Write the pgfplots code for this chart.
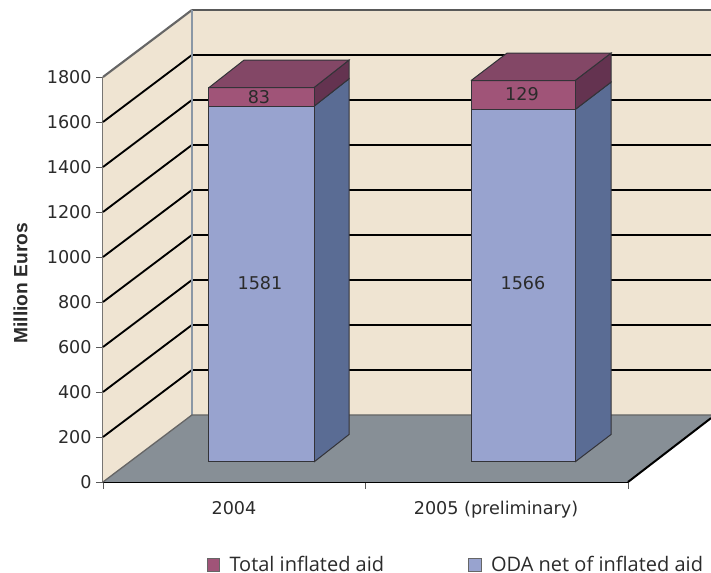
\documentclass[border=0pt]{standalone}
\usepackage{pgfplots}
\pgfplotsset{compat=1.18}
\usepackage{fontspec}
\setmainfont{DejaVu Sans}
\newfontfamily\lab{Liberation Sans}
\newfontfamily\leg{Open Sans}
\definecolor{wall}{HTML}{EFE4D2}
\definecolor{floorc}{HTML}{878F96}
\definecolor{odaF}{HTML}{98A3CF}
\definecolor{odaS}{HTML}{5A6C94}
\definecolor{infF}{HTML}{A05478}
\definecolor{infS}{HTML}{643350}
\definecolor{infT}{HTML}{834766}
\definecolor{edge}{HTML}{333338}
\definecolor{txt}{HTML}{2B2B2B}
\definecolor{backedge}{HTML}{8A97A5}
\begin{document}
\begin{tikzpicture}
\path[use as bounding box] (0,0) rectangle (533.25pt,429.75pt);
\begin{axis}[
  at={(77.25pt,68.25pt)},anchor=south west,
  scale only axis,width=393.75pt,height=303.75pt,
  xmin=103,xmax=628,ymin=0,ymax=1800,
  clip=false,
  axis x line=bottom,axis y line=left,
  axis line style={-},
  x axis line style={black,line width=1.5pt},
  y axis line style={color=gray!80!black,line width=0.9pt},
  tick align=outside,
  major tick length=5pt,
  tick style={color=gray!70!black,line width=0.6pt},
  ytick={0,200,400,600,800,1000,1200,1400,1600,1800},
  xtick={103,365,628},
  xticklabels={},
  extra x ticks={234,496},
  extra x tick labels={2004,2005 (preliminary)},
  extra x tick style={major tick length=0pt,tick label style={yshift=-11pt}},
  /pgf/number format/assume math mode=true,
  /pgf/number format/1000 sep={},
  tick label style={font=\fontsize{13.2}{15}\selectfont,color=txt},
  ylabel={\lab\bfseries Million Euros},
  ylabel style={at={(axis description cs:-0.157,0.491)},anchor=center,font=\fontsize{14.4}{15}\selectfont,color=txt},
  legend columns=2,
  legend cell align=left,
  legend style={at={(axis cs:203,-369)},anchor=west,draw=none,fill=none,
    font=\leg\fontsize{15}{17}\selectfont,text=txt,
    /tikz/every odd column/.append style={column sep=5.3pt},
    /tikz/every even column/.append style={column sep=61.5pt}},
]
% legend
\addlegendimage{only marks,mark=square*,mark size=4.7pt,mark options={fill=infF,draw=black!60,line width=0.7pt}}
\addlegendentry{Total inflated aid}
\addlegendimage{only marks,mark=square*,mark size=4.7pt,mark options={fill=odaF,draw=black!60,line width=0.7pt}}
\addlegendentry{ODA net of inflated aid}
% walls
\addplot[fill=wall,draw=none,forget plot] coordinates {(192,2098)(711,2098)(711,298)(192,298)} \closedcycle;
\addplot[fill=wall,draw=none,forget plot] coordinates {(103,1800)(192,2098)(192,298)(103,0)} \closedcycle;
% grid
\foreach \v/\b in {200/498,400/698,600/898,800/1098,1000/1298,1200/1498,1400/1698,1600/1898}{
  \edef\tmp{\noexpand\addplot[black,line width=1.4pt,forget plot] coordinates {(103,\v)(192,\b)(711,\b)};}\tmp
}
% edges
\addplot[color=gray!80!black,line width=1.6pt,forget plot] coordinates {(103,1800)(192,2098)};
\addplot[color=black!65,line width=1.3pt,forget plot] coordinates {(192,2098)(711,2098)};
\addplot[color=backedge,line width=1pt,forget plot] coordinates {(192,2098)(192,298)};
% floor
\addplot[fill=floorc,draw=none,forget plot] coordinates {(103,0)(192,298)(711,298)(711,284)(628,0)};
\addplot[color=black!60,line width=1pt,forget plot] coordinates {(103,0)(192,298)(711,298)};
\addplot[black,line width=1.5pt,forget plot] coordinates {(628,0)(711,284)};
% bar 2004
\addplot[fill=odaS,draw=edge,line width=0.75pt,forget plot] coordinates {(314,89)(349,211)(349,1792)(314,1670)(314,89)};
\addplot[fill=infS,draw=edge,line width=0.75pt,forget plot] coordinates {(314,1670)(349,1792)(349,1875)(314,1753)(314,1670)};
\addplot[fill=odaF,draw=edge,line width=0.75pt,forget plot] coordinates {(209,89)(314,89)(314,1670)(209,1670)(209,89)};
\addplot[fill=infF,draw=edge,line width=0.75pt,forget plot] coordinates {(209,1670)(314,1670)(314,1753)(209,1753)(209,1670)};
\addplot[fill=infT,draw=edge,line width=0.75pt,forget plot] coordinates {(209,1753)(314,1753)(349,1875)(244,1875)(209,1753)};
% bar 2005
\addplot[fill=odaS,draw=edge,line width=0.75pt,forget plot] coordinates {(575,89)(611,211)(611,1777)(575,1655)(575,89)};
\addplot[fill=infS,draw=edge,line width=0.75pt,forget plot] coordinates {(575,1655)(611,1777)(611,1906)(575,1784)(575,1655)};
\addplot[fill=odaF,draw=edge,line width=0.75pt,forget plot] coordinates {(471,89)(575,89)(575,1655)(471,1655)(471,89)};
\addplot[fill=infF,draw=edge,line width=0.75pt,forget plot] coordinates {(471,1655)(575,1655)(575,1784)(471,1784)(471,1655)};
\addplot[fill=infT,draw=edge,line width=0.75pt,forget plot] coordinates {(471,1784)(575,1784)(611,1906)(507,1906)(471,1784)};
% labels
\node[font=\fontsize{13.2}{15}\selectfont,color=txt] at (axis cs:260,884) {1581};
\node[font=\fontsize{13.2}{15}\selectfont,color=txt] at (axis cs:523,884) {1566};
\node[font=\fontsize{13.2}{15}\selectfont,color=txt] at (axis cs:259,1712) {83};
\node[font=\fontsize{13.2}{15}\selectfont,color=txt] at (axis cs:522,1724) {129};
\end{axis}
\end{tikzpicture}
\end{document}
